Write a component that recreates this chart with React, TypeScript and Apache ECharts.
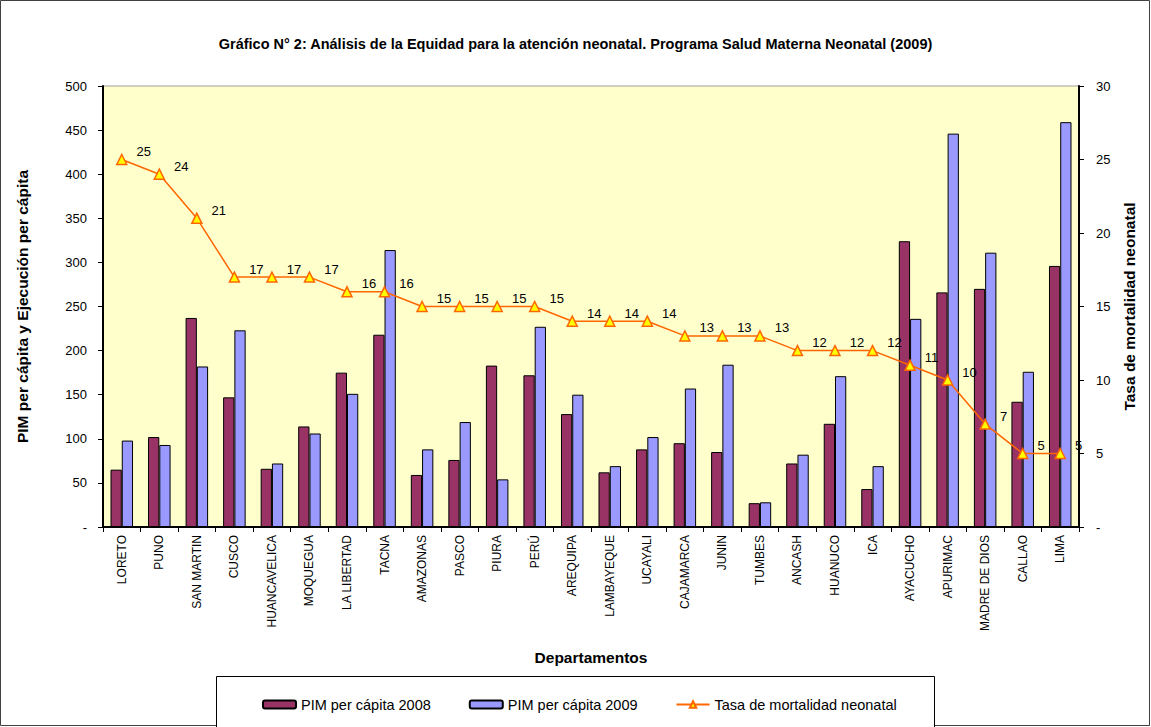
import React, { useEffect, useRef } from "react";
import * as echarts from "echarts";

const categories = [
  "LORETO", "PUNO", "SAN MARTIN", "CUSCO", "HUANCAVELICA", "MOQUEGUA", "LA LIBERTAD", "TACNA",
  "AMAZONAS", "PASCO", "PIURA", "PERÚ", "AREQUIPA", "LAMBAYEQUE", "UCAYALI", "CAJAMARCA",
  "JUNIN", "TUMBES", "ANCASH", "HUANUCO", "ICA", "AYACUCHO", "APURIMAC", "MADRE DE DIOS",
  "CALLAO", "LIMA",
];
const pim2008 = [65, 102, 237, 147, 66, 114, 175, 218, 59, 76, 183, 172, 128, 62, 88, 95, 85, 27, 72, 117, 43, 324, 266, 270, 142, 296];
const pim2009 = [98, 93, 182, 223, 72, 106, 151, 314, 88, 119, 54, 227, 150, 69, 102, 157, 184, 28, 82, 171, 69, 236, 446, 311, 176, 459];
const mortalidad = [25, 24, 21, 17, 17, 17, 16, 16, 15, 15, 15, 15, 14, 14, 14, 13, 13, 13, 12, 12, 12, 11, 10, 7, 5, 5];

const titleText = "Gráfico N° 2: Análisis de la Equidad para la atención neonatal. Programa Salud Materna Neonatal (2009)";
const seriesNames = ["PIM per cápita 2008", "PIM per cápita 2009", "Tasa de mortalidad neonatal"];

const FONT = "Arial, 'Liberation Sans', sans-serif";

export default function App() {
  const ref = useRef<HTMLDivElement>(null);
  useEffect(() => {
    if (!ref.current) return;
    const chart = echarts.init(ref.current, null, { renderer: "svg" });
    const dashZero = (v: number) => (v === 0 ? "-" : String(v));
    const nameStyle = { fontFamily: FONT, fontSize: 15.5, fontWeight: "bold", color: "#000" };
    chart.setOption({
      animation: false,
      backgroundColor: "#FFFFFF",
      textStyle: { fontFamily: FONT },
      title: {
        text: titleText,
        left: "center",
        top: 31,
        textStyle: { fontFamily: FONT, fontSize: 14.5, fontWeight: "bold", color: "#000" },
      },
      graphic: [
        {
          type: "rect",
          shape: { x: 0.5, y: 0.5, width: 1149, height: 725 },
          style: { fill: "none", stroke: "#404040", lineWidth: 1 },
          silent: true,
          z: -1,
        },
        {
          type: "rect",
          shape: { x: 216.5, y: 676.5, width: 718, height: 60 },
          style: { fill: "#fff", stroke: "#000", lineWidth: 1 },
          silent: true,
          z: -1,
        },
      ],
      legend: {
        left: 257,
        top: 692,
        itemWidth: 33,
        itemHeight: 8,
        itemGap: 38,
        textStyle: { fontFamily: FONT, fontSize: 14.5, color: "#000" },
        data: seriesNames,
      },
      grid: {
        left: 103,
        right: 72,
        top: 86,
        bottom: 200,
        show: true,
        backgroundColor: "#FFFFCC",
        borderColor: "#A0A0A0",
        borderWidth: 1,
      },
      xAxis: {
        type: "category",
        data: categories,
        boundaryGap: true,
        name: "Departamentos",
        nameLocation: "middle",
        nameGap: 122,
        nameTextStyle: nameStyle,
        axisLine: { lineStyle: { color: "#000", width: 2 } },
        axisTick: { show: true, alignWithLabel: false, length: 5, lineStyle: { color: "#000" } },
        axisLabel: { rotate: 90, fontSize: 12, color: "#000", margin: 8, interval: 0, fontFamily: FONT },
        splitLine: { show: false },
      },
      yAxis: [
        {
          type: "value",
          min: 0,
          max: 500,
          interval: 50,
          name: "PIM per cápita y Ejecución per cápita",
          nameLocation: "middle",
          nameRotate: 90,
          nameGap: 73,
          nameTextStyle: nameStyle,
          axisLine: { show: true, lineStyle: { color: "#000", width: 2 } },
          axisTick: { show: true, length: 5, lineStyle: { color: "#000" } },
          axisLabel: { formatter: dashZero, fontSize: 13, color: "#000", margin: 16, fontFamily: FONT },
          splitLine: { show: false },
        },
        {
          type: "value",
          min: 0,
          max: 30,
          interval: 5,
          name: "Tasa de mortalidad neonatal",
          nameLocation: "middle",
          nameRotate: 90,
          nameGap: 39,
          nameTextStyle: nameStyle,
          axisLine: { show: true, lineStyle: { color: "#000", width: 2 } },
          axisTick: { show: true, length: 5, lineStyle: { color: "#000" } },
          axisLabel: { formatter: dashZero, fontSize: 13, color: "#000", margin: 17, fontFamily: FONT },
          splitLine: { show: false },
        },
      ],
      series: [
        {
          name: seriesNames[0],
          type: "bar",
          data: pim2008,
          barGap: "0%",
          barCategoryGap: "40%",
          itemStyle: { color: "#993366", borderColor: "#000", borderWidth: 1 },
        },
        {
          name: seriesNames[1],
          type: "bar",
          data: pim2009,
          barGap: "0%",
          barCategoryGap: "40%",
          itemStyle: { color: "#9999FF", borderColor: "#000", borderWidth: 1 },
        },
        {
          name: seriesNames[2],
          type: "line",
          yAxisIndex: 1,
          data: mortalidad,
          symbol: "triangle",
          symbolSize: 10,
          z: 5,
          lineStyle: { color: "#FF6600", width: 1.5 },
          itemStyle: { color: "#FFFF00", borderColor: "#FF6600", borderWidth: 1.5 },
          label: {
            show: true,
            position: "right",
            offset: [4, -8],
            fontSize: 13,
            color: "#000",
            fontFamily: FONT,
          },
        },
      ],
    });
    return () => chart.dispose();
  }, []);
  return (
    <div
      ref={ref}
      style={{ position: "fixed", left: 0, top: 0, width: 1151, height: 727 }}
    />
  );
}
